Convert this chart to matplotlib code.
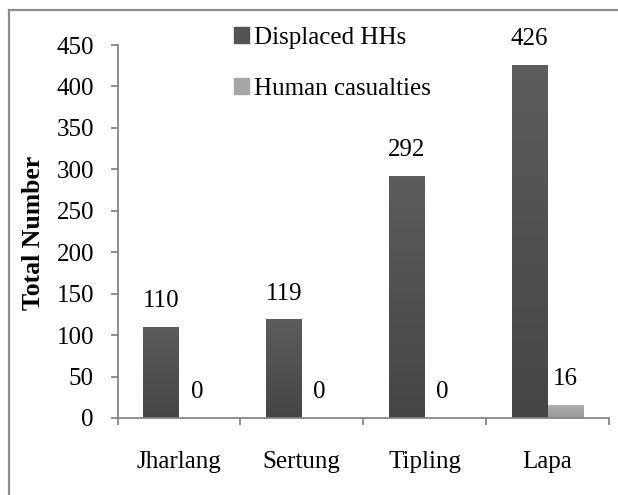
import matplotlib
matplotlib.use("Agg")
import matplotlib.pyplot as plt
from matplotlib.lines import Line2D
from matplotlib.patches import Patch
from matplotlib.colors import LinearSegmentedColormap
import numpy as np

categories = ["Jharlang", "Sertung", "Tipling", "Lapa"]
displaced = [110, 119, 292, 426]
casualties = [0, 0, 0, 16]
series_names = ["Displaced HHs", "Human casualties"]
yticks = [0, 50, 100, 150, 200, 250, 300, 350, 400, 450]

plt.rcParams['font.family'] = ['Liberation Serif', 'DejaVu Serif']
FS = 18
W, H = 618, 495
fig = plt.figure(figsize=(W/100, H/100), dpi=100)
ax = fig.add_axes([117.5/W, 1-418/H, (609-117.5)/W, (418-45)/H])

x = np.arange(len(categories))
w = 0.29
dark = '#535353'
light = '#a6a6a6'
b1 = ax.bar(x - w/2, displaced, w, color=dark)
b2 = ax.bar(x + w/2, casualties, w, color=light)

grad = np.linspace(0, 1, 64).reshape(-1, 1)
cm_dark = LinearSegmentedColormap.from_list('d', ['#5c5c5c', '#454545'])
cm_light = LinearSegmentedColormap.from_list('l', ['#b0b0b0', '#999999'])
for bars, cm in ((b1, cm_dark), (b2, cm_light)):
    for p in bars:
        if p.get_height() <= 0:
            continue
        x0, y0 = p.get_x(), p.get_y()
        im = ax.imshow(grad, cmap=cm, aspect='auto', origin='upper',
                       extent=[x0, x0 + p.get_width(), y0, y0 + p.get_height()], zorder=p.get_zorder() + 0.1)
        im.set_clip_path(p)

for xi, v in zip(x, displaced):
    ax.text(xi - w/2, v + 31, str(v), ha='center', va='center', fontsize=FS)
for xi, v in zip(x, casualties):
    ax.text(xi + w/2, v + 31, str(v), ha='center', va='center', fontsize=FS)

ax.set_xlim(-0.5, len(categories) - 0.5)
ax.set_ylim(0, 450)
ax.set_yticks(yticks)
ax.set_yticklabels([str(t) for t in yticks], fontsize=FS)
ax.set_xticks(x)
ax.set_xticklabels(categories, fontsize=FS)
ax.set_xticks(np.arange(-0.5, len(categories)), minor=True)
ax.tick_params(axis='x', which='major', length=0, pad=24)
ax.tick_params(axis='x', which='minor', length=5, width=1.3, color='#868686', direction='out')
ax.tick_params(axis='y', length=5, width=1.3, color='#868686', direction='out', pad=12)

for s in ['top', 'right']:
    ax.spines[s].set_visible(False)
for s in ['left', 'bottom']:
    ax.spines[s].set_color('#868686')
    ax.spines[s].set_linewidth(1.3)

fig.text(34/W, 1-233/H, 'Total Number', rotation=90, fontweight='bold',
         ha='center', va='center', fontsize=18.5)

handles = [Patch(color=dark), Patch(color=light)]
fig.legend(handles, series_names, loc='upper left', bbox_to_anchor=(234/W, 1-27/H),
           frameon=False, fontsize=FS, handlelength=0.6, handleheight=0.6,
           handletextpad=0.2, labelspacing=1.16, borderpad=0, borderaxespad=0)

fig.add_artist(Line2D([9/W, 1], [1-10/H, 1-10/H], color='#8c8c8c', lw=1.6, transform=fig.transFigure))
fig.add_artist(Line2D([9/W, 9/W], [1-10/H, 0], color='#8c8c8c', lw=1.6, transform=fig.transFigure))

fig.savefig('out.png', dpi=100)
